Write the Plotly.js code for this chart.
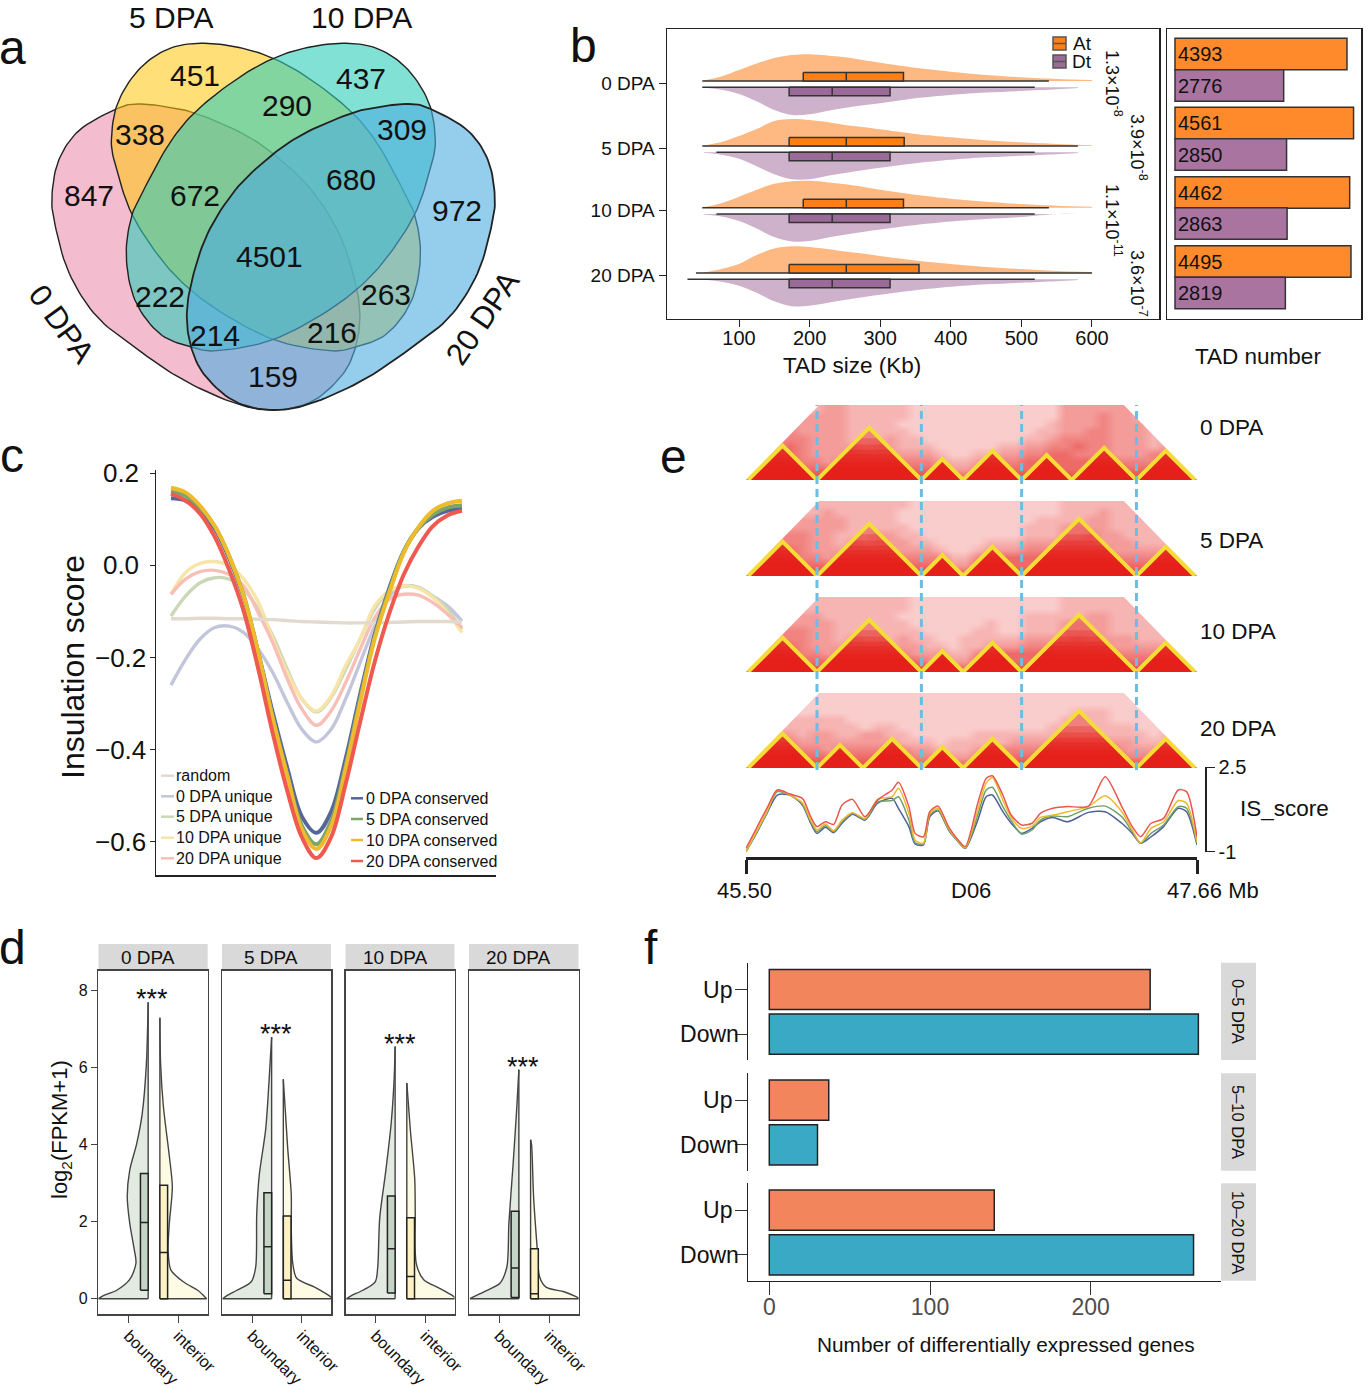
<!DOCTYPE html>
<html><head><meta charset="utf-8">
<script src="https://cdn.plot.ly/plotly-3.0.1.min.js"></script>
<style>html,body{margin:0;padding:0;background:#fff}#chart{width:1368px;height:1388px}</style>
</head><body><div id="chart"></div>
<script>
// ---------- panel a : Venn counts and outlines
const vennValues=[451,437,290,338,309,680,847,672,972,4501,222,263,214,216,159];
const vennSpots=[[195,75],[361,78],[287,105],[140,134],[402,129],[351,179],[89,195],[195,195],[457,210],[269,256],[160,296],[386,294],[215,335],[332,332],[273,376]];
const outline0=[[117.6,108.3],[138.4,104],[166,106.7],[195.5,113.3],[242.2,133.3],[276.8,156.7],[311.4,190],[339,233.3],[354.7,280],[359.9,316.7],[354.7,350],[340.8,376.7],[311.4,401.7],[273.4,410],[235.3,403.3],[183.4,380],[138.4,350],[96.9,316.7],[69.2,273.3],[55.4,226.7],[51.9,196.7],[58.8,160],[79.6,130]];
const outline5=[[111.4,140],[117.6,103.3],[138.4,70],[166,50],[197.2,43.3],[235.3,46.7],[273.4,58.3],[311.4,80],[351.2,111.7],[377.2,143.3],[401.4,186.7],[415.2,216.7],[420.4,256.7],[411.8,300],[387.5,333.3],[356.4,346.7],[328.7,350.7],[276.8,340.7],[228.4,316.7],[188.6,288.3],[159.2,256.7],[131.5,213.3],[115.9,166.7]];
// ---------- panel b : TAD size
const stages=['0 DPA','5 DPA','10 DPA','20 DPA'];
const gridAt=[50,75,100,125,150,175,200,225,250,275,300,350,400,450,500,550,600];
const densAt=[
 [.5,4.5,11,17.5,23,26,26.7,25.5,23.7,21,18.3,13.3,9.3,6,3.7,2,1],
 [.5,4,10,17,25,27,26,24,21,19,16.7,12,8.7,5.7,3.7,2,.7],
 [.5,4.5,11,18,24,26.5,27,25.5,23.5,21,18,13,9,6,3.7,2,1],
 [.5,4,9,18,24.5,26.7,26,24,21.5,19.5,17,12.5,9,6,4,2,1]];
const gridDt=[50,75,100,125,150,175,200,230,265,300,350,400,450,500,550,580];
const densDt=[
 [.5,2.5,6.7,14,22.7,27.7,27,23,19,16,11,7.7,5.3,3.7,2,.7],
 [.5,2.5,6.5,14,22,27,27,23,19,15.5,11,7.5,5,3.5,2,.7],
 [.5,2.5,7,14.5,23,27.5,27,23,19,15.5,11,7.5,5,3,0,0],
 [.5,2.5,6.5,13.5,22,27,26.5,23,19,15.5,11,7.5,5,3.5,2,.7]];
const boxAt=[[48,191,252,333,539],[48,171,252,334,580],[48,191,252,333,539],[39,171,252,355,600]];
const boxDt=[[48,171,232,314,519],[68,171,232,314,519],[68,171,232,314,519],[27,171,232,314,519]];
const pvals=['1.3×10<sup>-8</sup>','3.9×10<sup>-8</sup>','1.1×10<sup>-11</sup>','3.6×10<sup>-7</sup>'];
const tadAt=[4393,4561,4462,4495];
const tadDt=[2776,2850,2863,2819];
// ---------- panel c : insulation
const cNames=['random','0 DPA unique','5 DPA unique','10 DPA unique','20 DPA unique','0 DPA conserved','5 DPA conserved','10 DPA conserved','20 DPA conserved'];
const cColors=['#E3DACF','#C3C5DB','#CBD8B7','#F8E4A6','#F8BFB7','#56669A','#7DA568','#EDBB2C','#EE5A4F'];
const cBins=[0,1,2,3,4,5,6,7,8,9,10,11,12,13,14,15,16,17,18,19,20];
const isRandom=[-.116,-.116,-.115,-.115,-.116,-.116,-.117,-.118,-.12,-.122,-.123,-.124,-.125,-.125,-.125,-.124,-.123,-.122,-.122,-.122,-.123];
const is0u=[-.26,-.204,-.16,-.135,-.132,-.146,-.182,-.233,-.298,-.356,-.383,-.356,-.29,-.211,-.132,-.067,-.045,-.048,-.067,-.088,-.121];
const is5u=[-.11,-.067,-.038,-.027,-.03,-.052,-.095,-.153,-.226,-.29,-.318,-.287,-.226,-.16,-.095,-.056,-.045,-.048,-.067,-.095,-.139];
const is10u=[-.063,-.016,.004,.008,-.001,-.03,-.08,-.16,-.233,-.29,-.316,-.284,-.218,-.16,-.088,-.056,-.045,-.05,-.07,-.103,-.146];
const is20u=[-.063,-.03,-.014,-.011,-.02,-.045,-.103,-.168,-.247,-.312,-.347,-.316,-.255,-.182,-.114,-.074,-.063,-.065,-.081,-.106,-.135];
const is0c=[.145,.14,.118,.08,.015,-.07,-.19,-.32,-.44,-.545,-.58,-.535,-.42,-.28,-.15,-.05,.03,.08,.105,.118,.122];
const is5c=[.16,.15,.125,.085,.02,-.065,-.19,-.33,-.455,-.565,-.605,-.555,-.435,-.29,-.155,-.055,.03,.08,.11,.125,.13];
const is10c=[.168,.158,.129,.085,.02,-.067,-.19,-.334,-.457,-.573,-.615,-.566,-.443,-.298,-.16,-.06,.027,.082,.118,.134,.14];
const is20c=[.155,.14,.112,.062,-.01,-.1,-.225,-.365,-.49,-.59,-.635,-.59,-.475,-.34,-.21,-.105,-.02,.04,.085,.108,.118];
// ---------- panel d : expression violins [level, half width]
const vLevels=[
 {b:[[0,1],[.08,.9],[.22,.63],[.5,.37],[.92,.245],[1.35,.29],[1.96,.37],[2.65,.42],[3.34,.37],[4.03,.23],[4.8,.12],[6.1,.036],[7.7,0]],
  i:[[0,.94],[.08,.88],[.22,.76],[.44,.47],[.75,.22],[1.27,.165],[1.96,.19],[2.9,.25],[3.7,.19],[5,.07],[6.1,.015],[7.3,0]]},
 {b:[[0,.985],[.08,.9],[.22,.7],[.44,.41],[.83,.32],[2.2,.3],[3.2,.25],[4.4,.12],[5.7,.05],[6.8,0]],
  i:[[0,1],[.08,.92],[.3,.63],[.53,.27],[.92,.19],[1.8,.16],[2.7,.16],[3.95,.086],[5.7,0]]},
 {b:[[0,.98],[.08,.88],[.22,.65],[.44,.4],[.83,.35],[2.1,.31],[3.3,.19],[4.55,.08],[5.7,.02],[6.55,0]],
  i:[[0,1],[.08,.92],[.27,.66],[.49,.34],[.92,.19],[2.2,.17],[3.1,.16],[4.4,.07],[5.6,0]]},
 {b:[[0,.98],[.07,.88],[.18,.7],[.4,.38],[.83,.24],[1.96,.2],[3.5,.115],[5,.04],[5.95,0]],
  i:[[0,.99],[.06,.9],[.18,.67],[.3,.31],[.57,.18],[1.35,.13],[2.65,.06],[4,.02],[4.13,0]]}];
const vBoxB=[[.22,1.98,3.25],[.13,1.35,2.75],[.15,1.3,2.67],[.03,.8,2.27]];
const vBoxI=[[0,1.2,2.95],[0,.48,2.15],[0,.58,2.1],[0,.13,1.3]];
const groupNames=['boundary','interior'];
// ---------- panel e : TAD boundaries (Mb), contact intensity rows (top to bottom), IS scores
const tadBounds=[
 [45.51,45.84,46.34,46.54,46.82,47.06,47.37,47.65],
 [45.51,45.84,46.34,46.54,46.82,47.37,47.65],
 [45.51,45.84,46.34,46.54,46.82,47.37,47.65],
 [45.51,45.84,46.06,46.34,46.54,46.82,47.37,47.65]];
const guideMb=[45.84,46.34,46.82,47.37];
const heat0=["333333443333322222222222244444433333","333344443333322222222222244454433333","333444443333222222222222344454443333","334544443333322222222223344554443333","335554443334332222222233455554443343","355654444344333222223344556554443444","456654445444444322334455665554445554","566655455555555433445566666665555665","666666666666666544556666666666666665","777777777777777766667777777777777777"];
const heat5=["333333333333322222222222233333333333","333333433333222222222222233343333333","333344443333222222222223333443333333","334444443333322222222233344443333333","335554433344332222222233344544333333","355554434344433222233344455544433343","456654444444444322344455555554444454","566655455555555533556666666665555565","666666666666666544666666666666666665","777777777777777766667777777777777777"];
const heat10=["333333333333322222222222233333333333","333333333333322222222222233333333333","333344333333222222222233333443333333","334444433333322222232233344443333333","345554433333332222332233344443333333","455554434333433223333344445444433343","456654444444443323344455555554444454","566655455555544433556666655555555565","666666666666665444666666666666666665","777777777777777666667777777777777777"];
const heat20=["222222222222222222222222222222222222","222222222222222222222222222222222222","222222222222222222222222223332222222","223333332222222222222222233332222222","233333333233222222222222333333322222","334434433443322222333333333333332333","444544444444333233333444444444433343","555555455555544333445555555555444454","666666666666655444555666666666555565","777777777777766666667777777777777777"];
const isMb=[45.50,45.55,45.60,45.65,45.71,45.77,45.81,45.84,45.88,45.92,45.96,46.01,46.07,46.13,46.20,46.23,46.28,46.31,46.35,46.38,46.42,46.47,46.51,46.55,46.61,46.65,46.68,46.73,46.77,46.82,46.87,46.91,46.97,47.04,47.14,47.22,47.30,47.35,47.39,47.44,47.50,47.57,47.61,47.66];
const is_0=[-1,-.24,.59,1.35,1.35,.94,.18,-.24,.01,-.21,.18,.55,.31,1.01,1.21,.80,.04,-.68,-.72,.45,.70,-.10,-.52,-.86,.31,1.28,1.35,.66,.18,-.24,-.03,.24,.42,.24,.63,.66,.18,-.24,-.65,-.38,.04,.80,.66,-.72];
const is_5=[-1,-.21,.62,1.49,1.35,.98,.24,-.17,.08,-.17,.24,.59,.34,1.07,1.12,1.28,.31,-.63,-.68,.52,.73,-.07,-.52,-.86,.52,1.56,1.67,.87,.29,-.27,-.10,.31,.48,.45,.80,.89,.45,-.17,-.65,-.24,.11,.87,.80,-.65];
const is_10=[-1,-.17,.66,1.56,1.35,1.03,.31,-.10,.15,-.13,.31,.62,.38,1.17,1.28,1.63,.59,-.52,-.65,.59,.80,-.03,-.49,-.83,.73,1.84,2.08,1.14,.42,-.03,.06,.42,.52,.66,.87,1.32,.66,-.10,-.63,-.03,.24,1.12,1.01,-.59];
const is_20=[-.86,-.03,.80,1.56,1.39,1.21,.45,.04,.24,.13,.94,1.17,.45,1.14,1.56,1.88,.87,-.24,-.38,.66,.89,.04,-.45,-.79,1.01,2.04,2.15,1.35,.52,.11,.18,.59,.80,.87,.89,2.11,.87,.04,-.38,.18,.38,1.56,1.49,-.38];
// ---------- panel f : DEG counts
const degCats=['Up','Down'];
const degFacets=['0–5 DPA','5–10 DPA','10–20 DPA'];
const degUp=[237,37,140];
const degDown=[267,30,264];

// ---------- plumbing
const W=1368,H=1388,FONT='"Liberation Sans",Arial,sans-serif',INK='#222';
const traces=[],annotations=[],shapes=[];
const layout={width:W,height:H,margin:{l:0,r:0,t:0,b:0},showlegend:false,paper_bgcolor:'#fff',plot_bgcolor:'rgba(0,0,0,0)',font:{family:FONT,color:'#111'},annotations,shapes,
 xaxis:{domain:[0,1],range:[0,W],visible:false,fixedrange:true},
 yaxis:{domain:[0,1],range:[H,0],visible:false,fixedrange:true}};
let axN=1;
const hidden={visible:false,fixedrange:true,zeroline:false,showgrid:false};
function axes(x0,x1,y0,y1,xa,ya){
  axN++;
  layout['xaxis'+axN]=Object.assign({},hidden,{domain:[x0/W,x1/W],anchor:'y'+axN},xa);
  layout['yaxis'+axN]=Object.assign({},hidden,{domain:[1-y1/H,1-y0/H],anchor:'x'+axN},ya);
  return {xaxis:'x'+axN,yaxis:'y'+axN};
}
function T(text,x,y,size,o){
  annotations.push(Object.assign({text,x,y,xref:'x',yref:'y',showarrow:false,xanchor:'center',yanchor:'middle',font:{size,family:FONT,color:(o&&o.color)||'#111'}},o||{}));
}
function poly(ref,xs,ys,fill,extra){traces.push(Object.assign({type:'scatter',mode:'lines',x:xs,y:ys,fill:'toself',fillcolor:fill,line:{width:0},hoverinfo:'skip'},ref,extra||{}));}
function line(ref,xs,ys,color,width,extra){traces.push(Object.assign({type:'scatter',mode:'lines',x:xs,y:ys,line:{color,width},hoverinfo:'skip'},ref,extra||{}));}
function rect(ref,x0,x1,y0,y1,fill,lc,lw){traces.push(Object.assign({type:'scatter',mode:'lines',x:[x0,x1,x1,x0,x0],y:[y0,y0,y1,y1,y0],fill:'toself',fillcolor:fill,line:{color:lc,width:lw},hoverinfo:'skip'},ref));}
// smooth closed outline through hand-read control points
function closedCurve(p){
  const out=[],n=p.length,S=10;
  for(let i=0;i<n;i++){
    const a=p[(i-1+n)%n],b=p[i],c=p[(i+1)%n],d=p[(i+2)%n];
    for(let k=0;k<S;k++){
      const t=k/S,t2=t*t,t3=t2*t;
      out.push([0,1].map(j=>.5*((2*b[j])+(-a[j]+c[j])*t+(2*a[j]-5*b[j]+4*c[j]-d[j])*t2+(-a[j]+3*b[j]-3*c[j]+d[j])*t3)));
    }
  }
  out.push(out[0]);
  return out;
}

// ---------- panel letters
[['a',12,47],['b',583,45],['c',12,455],['d',12,947],['e',673,456],['f',651,947]].forEach(p=>T(p[0],p[1],p[2],48));

// ---------- a
const SYM=546.7;
const outline20=outline0.map(p=>[SYM-p[0],p[1]]);
const outline10=outline5.map(p=>[SYM-p[0],p[1]]);
[[outline0,'rgba(232,121,159,.5)',1.4],[outline5,'rgba(255,198,10,.55)',1.4],[outline10,'rgba(46,205,185,.6)',1.4],[outline20,'rgba(79,173,224,.6)',1.8]].forEach(s=>{
  const c=closedCurve(s[0]);
  traces.push({type:'scatter',mode:'lines',x:c.map(p=>p[0]),y:c.map(p=>p[1]),fill:'toself',fillcolor:s[1],line:{color:INK,width:s[2]},hoverinfo:'skip'});
});
vennValues.forEach((v,i)=>T(String(v),vennSpots[i][0],vennSpots[i][1],30));
T('5 DPA',171,17,30);T('10 DPA',361,17,30);
T('0 DPA',62,324,31,{textangle:54});T('20 DPA',482,318,31,{textangle:-56});

// ---------- b violins
const lineAx={visible:true,showline:true,linecolor:INK,linewidth:1.5,mirror:true};
const rowPos=[54,119,180.7,246];
const bRef=axes(667,1159,29.3,318.7,
 Object.assign({},lineAx,{range:[-2,695],tickmode:'array',tickvals:[100,200,300,400,500,600],ticks:'outside',ticklen:7,ticklabelstandoff:-6,tickcolor:INK,tickfont:{size:20,color:'#111'}}),
 Object.assign({},lineAx,{range:[289.4,0],tickmode:'array',tickvals:rowPos,ticktext:stages,ticks:'outside',ticklen:7,tickcolor:INK,tickfont:{size:19,color:'#111'}}));
function curveFill(ref,xs,base,ys,fill){
  traces.push(Object.assign({type:'scatter',mode:'lines',x:xs,y:xs.map(()=>base),line:{width:0},hoverinfo:'skip'},ref));
  traces.push(Object.assign({type:'scatter',mode:'lines',x:xs,y:ys,fill:'tonexty',fillcolor:fill,line:{width:0,shape:'spline',smoothing:.9},hoverinfo:'skip'},ref));
}
stages.forEach((s,i)=>{
  const ya=rowPos[i]-2.3, yd=rowPos[i]+4;
  curveFill(bRef,gridAt,ya,densAt[i].map(d=>ya-d),'#FDB981');
  curveFill(bRef,gridDt,yd,densDt[i].map(d=>yd+d),'#CEB2CC');
  const A=boxAt[i],D=boxDt[i];
  line(bRef,[A[0],A[4]],[ya,ya],'#333',1.6);
  line(bRef,[D[0],D[4]],[yd,yd],'#333',1.6);
  rect(bRef,A[1],A[3],ya-8.5,ya,'#FF7F14','#333',1.5);
  line(bRef,[A[2],A[2]],[ya-8.5,ya],'#333',1.5);
  rect(bRef,D[1],D[3],yd,yd+8.5,'#9A6A98','#333',1.5);
  line(bRef,[D[2],D[2]],[yd,yd+8.5],'#333',1.5);
});
T('TAD size (Kb)',852,365,22.5);
// legend At / Dt
[[37,50,'#FF7F14','At',43],[55,68,'#9A6A98','Dt',61]].forEach(k=>{
  shapes.push({type:'rect',xref:'x',yref:'y',x0:1053,x1:1066,y0:k[0],y1:k[1],fillcolor:k[2],line:{color:'#555',width:1.5},layer:'above'});
  shapes.push({type:'line',xref:'x',yref:'y',x0:1053,x1:1066,y0:(k[0]+k[1])/2,y1:(k[0]+k[1])/2,line:{color:'#555',width:1.5},layer:'above'});
  T(k[3],1082,k[4],19);
});
[[1113,83],[1138,147],[1113,220],[1138,283]].forEach((p,i)=>T(pvals[i],p[0]+1,p[1],18,{textangle:90}));

// ---------- b bars
const tadPosAt=[24.7,93.7,163.2,232.2], tadPosDt=[56.2,125.2,194.2,263.7];
const bbRef=axes(1167,1361,29.3,318.7,
 Object.assign({},lineAx,{range:[-204,4751],showticklabels:false,ticks:''}),
 Object.assign({},lineAx,{range:[289.4,0],showticklabels:false,ticks:''}));
[[tadAt,tadPosAt,'#FF8A2B'],[tadDt,tadPosDt,'#A9749F']].forEach(s=>{
  traces.push(Object.assign({type:'bar',orientation:'h',x:s[0],y:s[1],width:31.5,marker:{color:s[2],line:{color:'#333',width:1.5}},text:s[0].map(String),textposition:'inside',insidetextanchor:'start',textangle:0,constraintext:'none',textfont:{size:20,color:'#111',family:FONT},hoverinfo:'skip'},bbRef));
});
T('TAD number',1258,356,22.5);

// ---------- c
const cRef=axes(156,496,470,875,
 {visible:true,showline:true,linecolor:INK,linewidth:1.5,range:[-1.03,22.34],showticklabels:false,ticks:''},
 {visible:true,showline:true,linecolor:INK,linewidth:1.5,range:[-.6716,.2065],tickmode:'array',tickvals:[-.6,-.4,-.2,0,.2],ticktext:['−0.6','−0.4','−0.2','0.0\u00a0','0.2\u00a0'],ticks:'outside',ticklen:5,ticklabelstandoff:-2,tickcolor:INK,tickfont:{size:26,color:'#111'}});
[is0u,is5u,is10u,is20u,isRandom,is0c,is5c,is10c,is20c].forEach((v,i)=>{
  const idx=[1,2,3,4,0,5,6,7,8][i];
  traces.push(Object.assign({type:'scatter',mode:'lines',x:cBins,y:v,line:{color:cColors[idx],width:idx>4?4:3.4,shape:'spline',smoothing:1},hoverinfo:'skip',name:cNames[idx]},cRef));
});
T('Insulation score',73,667,32,{textangle:-90});
const legL=[775.7,796.3,816.7,837.7,858.3], legR=[798.3,819,840,861];
legL.forEach((y,i)=>{shapes.push({type:'line',xref:'x',yref:'y',x0:161,x1:174,y0:y,y1:y,line:{color:cColors[i],width:2.5},layer:'above'});T(cNames[i],174,y,16,{xanchor:'left'});});
legR.forEach((y,i)=>{shapes.push({type:'line',xref:'x',yref:'y',x0:351,x1:363,y0:y,y1:y,line:{color:cColors[i+5],width:2.5},layer:'above'});T(cNames[i+5],364,y,16,{xanchor:'left'});});

// ---------- d
const dPanels=[[98.4,207.7],[222,331],[345.5,454.5],[469,578.5]];
const dLabelX=[148,271,395,518], starX=[152,276,400,523], starY=[999,1034,1044,1067];
const frameD={visible:true,showline:true,linecolor:'#444',linewidth:1.5,mirror:true};
const flatB=1.395, flatI=1.63, boxW=.155;
dPanels.forEach((p,i)=>{
  shapes.push({type:'rect',xref:'x',yref:'y',x0:p[0],x1:p[1],y0:944,y1:970.7,fillcolor:'#D9D9D9',line:{width:0},layer:'below'});
  T(stages[i],dLabelX[i],957.5,19);
  const ref=axes(p[0],p[1],970.7,1314.3,
    Object.assign({},frameD,{range:[.396,2.59],tickmode:'array',tickvals:[1,2],ticktext:groupNames,tickangle:45,ticks:'outside',ticklen:7,ticklabelstandoff:-3,tickcolor:'#444',tickfont:{size:16.5,color:'#111'}}),
    Object.assign({},frameD,{range:[-.405,8.52],tickmode:'array',tickvals:i==0?[0,2,4,6,8]:[],ticks:i==0?'outside':'',ticklen:6,tickcolor:'#444',showticklabels:i==0,tickfont:{size:16,color:'#111'}}));
  [[vLevels[i].b,flatB,-1,'#E3EAE2'],[vLevels[i].i,flatI,1,'#FEFBE5']].forEach(v=>{
    const ys=v[0].map(d=>d[0]), xs=v[0].map(d=>v[1]+v[2]*d[1]);
    traces.push(Object.assign({type:'scatter',mode:'lines',x:ys.map(()=>v[1]),y:ys,line:{color:'#444',width:1.4},hoverinfo:'skip'},ref));
    traces.push(Object.assign({type:'scatter',mode:'lines',x:xs,y:ys,fill:'tonextx',fillcolor:v[3],line:{color:'#444',width:1.4,shape:'spline',smoothing:.8},hoverinfo:'skip'},ref));
    line(ref,[xs[0],v[1]],[0,0],'#444',1.4);
  });
  const B=vBoxB[i], I=vBoxI[i];
  rect(ref,flatB-boxW,flatB,B[0],B[2],'#C5D5C5','#222',1.5);
  line(ref,[flatB-boxW,flatB],[B[1],B[1]],'#222',1.5);
  rect(ref,flatI,flatI+boxW,I[0],I[2],'#FEF1C3','#222',1.5);
  line(ref,[flatI,flatI+boxW],[I[1],I[1]],'#222',1.5);
  T('***',starX[i],starY[i],27);
});
T('log<sub>2</sub>(FPKM+1)',61,1130,22,{textangle:-90});

// ---------- e
const E0=746,E1=1197,MB0=45.5,MB1=47.66,TOP=.36;
const heatMaps=[heat0,heat5,heat10,heat20], bases=[480,576,672,768], eLabelY=[427,540,631,728];
const hotScale=[[0,'#FFFFFF'],[1,'#E5201B']];
const tiers=[[.2,.3],[.17,.3],[.145,.35],[.125,.35],[.105,.4],[.085,.5],[.065,1]];
heatMaps.forEach((rows,i)=>{
  const ref=axes(E0,E1,bases[i]-75,bases[i],{range:[MB0,MB1]},{range:[0,TOP]});
  const nc=rows[0].length,nr=rows.length;
  const xc=[],yc=[];
  for(let k=0;k<nc;k++)xc.push(MB0+(MB1-MB0)*(k+.5)/nc);
  for(let r=0;r<nr;r++)yc.push(TOP*(nr-r-.5)/nr);
  const z=rows.map(s=>s.split('').map(Number));
  traces.push(Object.assign({type:'heatmap',x:xc,y:yc,z,zmin:0,zmax:9,colorscale:hotScale,showscale:false,zsmooth:'best',hoverinfo:'skip'},ref));
  poly(ref,[MB0-.01,MB0-.01,MB0+TOP],[-.01,TOP+.01,TOP+.01],'#fff',{});
  poly(ref,[MB1+.01,MB1+.01,MB1-TOP],[-.01,TOP+.01,TOP+.01],'#fff',{});
  const bd=tadBounds[i];
  for(let k=0;k<bd.length-1;k++){
    const s=bd[k],e=bd[k+1],h=(e-s)/2;
    poly(ref,[s,(s+e)/2,e],[0,h,0],'rgba(229,32,27,.35)');
    tiers.forEach(c=>{
      const cut=Math.min(c[0],h);
      poly(ref,[s,s+cut,e-cut,e],[0,cut,cut,0],'rgba(229,32,27,'+c[1]+')');
    });
    line(ref,[s,(s+e)/2,e],[0,h,0],'#F4DE36',4);
  }
  T(stages[i],1198,eLabelY[i],22.5,{xanchor:'left'});
});
// IS score tracks
const isRef=axes(E0,E1,767.3,851.7,
 {visible:true,range:[MB0,MB1],anchor:'free',position:1-858/H,side:'bottom',showline:true,linecolor:'#222',linewidth:3,tickmode:'array',tickvals:[MB0,MB1],ticks:'outside',ticklen:14,tickwidth:3,tickcolor:'#222',showticklabels:false},
 {visible:true,range:[-1,2.5],anchor:'free',position:1205/W,side:'right',showline:true,linecolor:'#222',linewidth:1.5,tickmode:'array',tickvals:[-1,2.5],ticktext:['-1','2.5'],ticks:'outside',ticklen:8,tickcolor:'#222',tickfont:{size:20,color:'#111'}});
[[is_0,'#4E5F99'],[is_5,'#6FA06A'],[is_10,'#EDB92E'],[is_20,'#E8564E']].forEach(s=>traces.push(Object.assign({type:'scatter',mode:'lines',x:isMb,y:s[0],line:{color:s[1],width:1.5,shape:'spline',smoothing:.7},hoverinfo:'skip'},isRef)));
T('IS_score',1284,808,22.5);
T('45.50',744,890,22);T('D06',971,890,22);T('47.66 Mb',1213,890,22);
// dashed guides on top
const gRef=axes(E0,E1,405,770,{range:[MB0,MB1]},{range:[0,1]});
guideMb.forEach(m=>line(gRef,[m,m],[0,1],'#6CBDE3',3,{}));
traces.slice(-4).forEach(t=>t.line.dash='8px,5px');

// ---------- f
const fY=[[962.7,1060],[1073.3,1170.7],[1183.3,1280.7]];
const fLabelY=[1011,1122,1232];
const FX1=1221, FR=[-13.25,(FX1-769.3)/1.607];
degFacets.forEach((name,i)=>{
  const last=i==2;
  shapes.push({type:'rect',xref:'x',yref:'y',x0:FX1,x1:1256,y0:fY[i][0],y1:fY[i][1],fillcolor:'#D9D9D9',line:{width:0},layer:'below'});
  T(name,1238,fLabelY[i],16.5,{textangle:90});
  const ref=axes(748,FX1,fY[i][0],fY[i][1],
    last?{visible:true,showline:true,linecolor:INK,linewidth:1.5,range:FR,tickmode:'array',tickvals:[0,100,200],ticks:'outside',ticklen:13,ticklabelstandoff:-8,tickcolor:'#333',tickfont:{size:23,color:'#4D4D4D'}}:{range:FR},
    {visible:true,showline:true,linecolor:INK,linewidth:1.5,type:'category',categoryorder:'array',categoryarray:degCats,range:[1.58,-.6],tickmode:'array',tickvals:degCats,ticktext:['Up\u00a0','Down'],ticks:'outside',ticklen:12,tickcolor:'#333',ticklabelstandoff:-9,tickfont:{size:23,color:'#111'}});
  traces.push(Object.assign({type:'bar',orientation:'h',x:[degUp[i],degDown[i]],y:degCats,width:.9,marker:{color:['#F2855C','#3AA9C6'],line:{color:'#222',width:1.5}},hoverinfo:'skip'},ref));
});
T('Number of differentially expressed genes',1006,1344,20.8);

Plotly.newPlot('chart',traces,layout,{staticPlot:true,displayModeBar:false});
</script></body></html>
